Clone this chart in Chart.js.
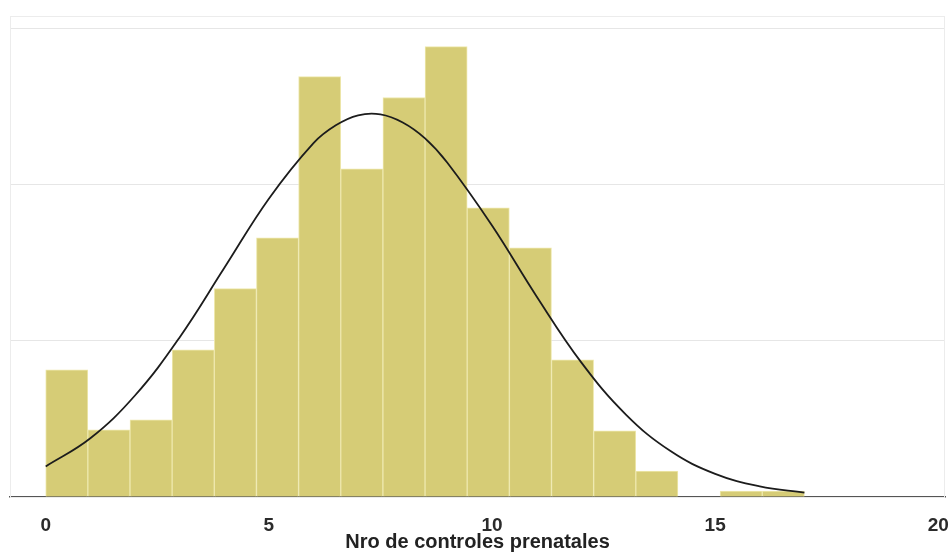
<!DOCTYPE html>
<html>
<head>
<meta charset="utf-8">
<script src="https://cdn.jsdelivr.net/npm/chart.js@4.4.1/dist/chart.umd.min.js"></script>
<style>
    html, body { margin: 0; padding: 0; background: #fff; }
    #wrap { width: 950px; height: 554px; }
</style>
</head>
<body>
<div id="wrap"><canvas id="histChart" width="950" height="554"></canvas></div>
<script>
// histogram bins: left edge of each bin (width 17/18) and density
const binStarts = [0, 0.944, 1.889, 2.833, 3.778, 4.722, 5.667, 6.611, 7.556,
    8.5, 9.444, 10.389, 11.333, 12.278, 13.222, 14.167, 15.111, 16.056];
const binWidth = 0.944;
const densities = [0.0407, 0.0215, 0.0247, 0.0471, 0.0667, 0.083, 0.1346, 0.1051, 0.1279,
    0.1442, 0.0926, 0.0798, 0.0439, 0.0212, 0.0083, 0, 0.0019, 0.0019];

// normal curve
const curveX = [0, 1, 2, 3, 4, 5, 6, 6.5, 7, 7.5, 8, 8.5, 9, 10, 11, 12, 13, 14, 15, 16, 17];
const curveY = [0.0098, 0.0188, 0.0325, 0.0511, 0.0733, 0.0955, 0.1133, 0.1190, 0.1222, 0.1225,
    0.1199, 0.1148, 0.107, 0.0869, 0.0642, 0.0431, 0.0264, 0.0147, 0.0074, 0.0034, 0.0014];

const xTicks = [0, 5, 10, 15, 20];
const yGrid = [0, 0.05, 0.1, 0.15, 0.154];

const frame = {
    id: 'frame',
    beforeDatasetsDraw(chart) {
        const { ctx, chartArea: a } = chart;
        ctx.save();
        ctx.strokeStyle = '#ececec';
        ctx.lineWidth = 1;
        ctx.strokeRect(a.left + 0.5, a.top + 0.5, a.right - a.left - 1, a.bottom - a.top);
        ctx.restore();
    }
};

const ctx = document.getElementById('histChart').getContext('2d');
new Chart(ctx, {
    type: 'bar',
    data: {
        datasets: [{
            type: 'line',
            data: curveX.map((x, i) => ({ x, y: curveY[i] })),
            borderColor: '#1c1c1c',
            borderWidth: 1.8,
            pointRadius: 0,
            tension: 0.4,
            order: 0
        }, {
            data: binStarts.map((s, i) => ({ x: s + binWidth / 2, y: densities[i] })),
            backgroundColor: '#d6cc76',
            borderColor: '#eee8ad',
            borderWidth: 1,
            barPercentage: 1,
            categoryPercentage: 1,
            order: 1
        }]
    },
    options: {
        responsive: false,
        animation: false,
        layout: { padding: { top: 16, left: 10, right: 5, bottom: 0 } },
        plugins: {
            legend: { display: false },
            tooltip: { enabled: false }
        },
        scales: {
            x: {
                type: 'linear',
                min: -0.8,
                max: 20.15,
                offset: false,
                afterBuildTicks: s => { s.ticks = xTicks.map(v => ({ value: v })); },
                afterFit: s => { s.height = 57; s.paddingLeft = 0; s.paddingRight = 0; },
                grid: { display: false, drawOnChartArea: false, drawTicks: true, tickLength: 7, tickColor: '#555' },
                border: { display: true, color: '#555', width: 1.5 },
                ticks: {
                    color: '#2b2b2b',
                    padding: 10,
                    maxRotation: 0,
                    font: { family: 'Liberation Sans, Arial, sans-serif', size: 19, weight: 'bold', lineHeight: 1.2 }
                },
                title: {
                    display: true,
                    text: 'Nro de controles prenatales',
                    color: '#222',
                    padding: { top: 0, bottom: 2 },
                    font: { family: 'Liberation Sans, Arial, sans-serif', size: 20, weight: 'bold', lineHeight: 1 }
                }
            },
            y: {
                min: 0,
                max: 0.154,
                afterBuildTicks: s => { s.ticks = yGrid.map(v => ({ value: v })); },
                afterFit: s => { s.width = 0; },
                grid: { color: '#e6e6e6', drawTicks: false },
                border: { display: true, color: '#ececec' },
                ticks: { display: false }
            }
        }
    },
    plugins: [frame]
});
</script>
</body>
</html>
